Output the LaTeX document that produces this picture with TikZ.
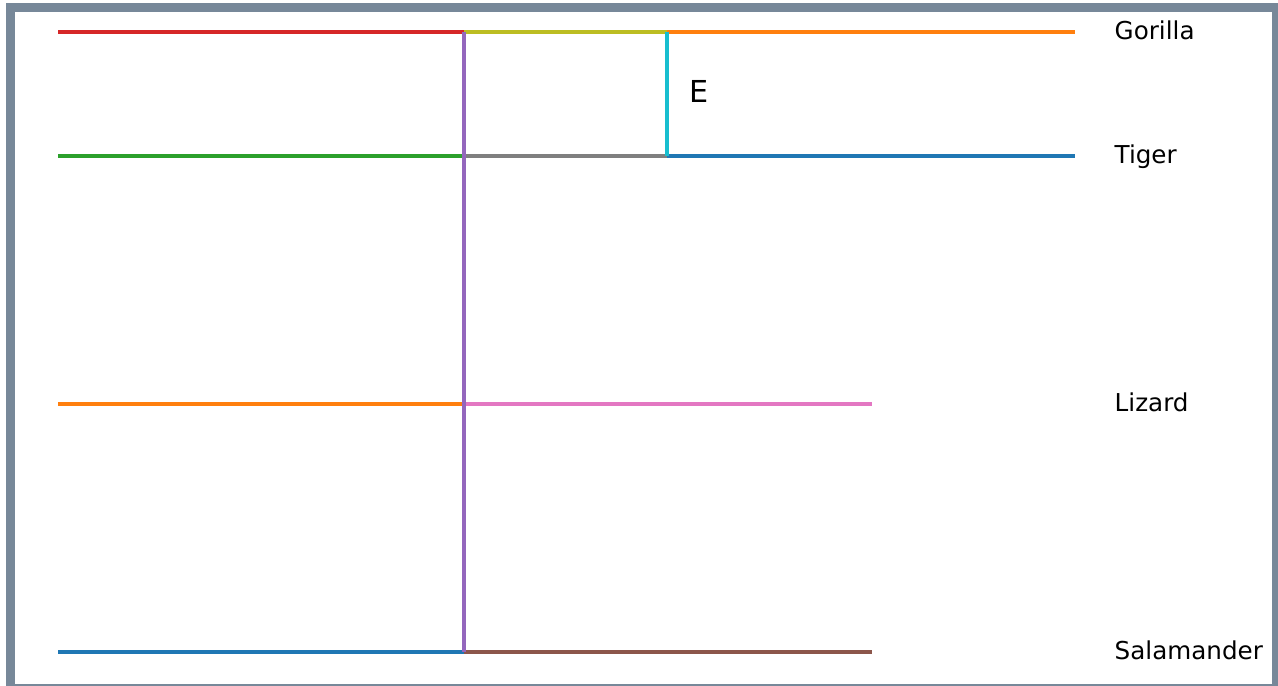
\documentclass[tikz,border=0pt]{standalone}
\usepackage{fontspec}
\setmainfont{DejaVu Sans}
\definecolor{tred}{HTML}{D62728}
\definecolor{tolive}{HTML}{BCBD22}
\definecolor{torange}{HTML}{FF7F0E}
\definecolor{tgreen}{HTML}{2CA02C}
\definecolor{tgray}{HTML}{7F7F7F}
\definecolor{tblue}{HTML}{1F77B4}
\definecolor{tcyan}{HTML}{17BECF}
\definecolor{tpurple}{HTML}{9467BD}
\definecolor{tpink}{HTML}{E377C2}
\definecolor{tbrown}{HTML}{8C564B}
\definecolor{framegray}{HTML}{778899}
\begin{document}
\begin{tikzpicture}[x=0.01cm, y=-0.01cm,
		seg/.style={line width=1.35pt},
		lbl/.style={anchor=base west, inner sep=0pt, font=\fontsize{7pt}{8pt}\selectfont}]
		\useasboundingbox (0, 0) rectangle (1278, 686);
		\fill[framegray] (6, 3) rectangle (1278, 686);
		\fill[white] (15, 12) rectangle (1272, 684);
		\coordinate (0) at (58, 32);
		\coordinate (1) at (464, 32);
		\coordinate (2) at (667, 32);
		\coordinate (3) at (1075, 32);
		\coordinate (4) at (58, 156);
		\coordinate (5) at (464, 156);
		\coordinate (6) at (667, 156);
		\coordinate (7) at (1075, 156);
		\coordinate (8) at (58, 404);
		\coordinate (9) at (464, 404);
		\coordinate (10) at (872, 404);
		\coordinate (11) at (58, 652);
		\coordinate (12) at (464, 652);
		\coordinate (13) at (872, 652);
		\draw[seg, tred] (0) -- (1);
		\draw[seg, tolive] (1) -- (2);
		\draw[seg, torange] (2) -- (3);
		\draw[seg, tgreen] (4) -- (5);
		\draw[seg, tgray] (5) -- (6);
		\draw[seg, tblue] (6) -- (7);
		\draw[seg, torange] (8) -- (9);
		\draw[seg, tpink] (9) -- (10);
		\draw[seg, tblue] (11) -- (12);
		\draw[seg, tbrown] (12) -- (13);
		\draw[seg, tcyan] (2) -- (6);
		\draw[seg, tpurple] (1) -- (12);
		\node [lbl, font=\fontsize{8.6pt}{10pt}\selectfont] (E) at (689, 103) {E};
		\node [lbl] (gorilla) at (1114, 40) {Gorilla};
		\node [lbl] (tiger) at (1114, 164) {Tiger};
		\node [lbl] (lizard) at (1114, 412) {Lizard};
		\node [lbl] (salamander) at (1114, 660) {Salamander};
	\end{tikzpicture}
\end{document}
